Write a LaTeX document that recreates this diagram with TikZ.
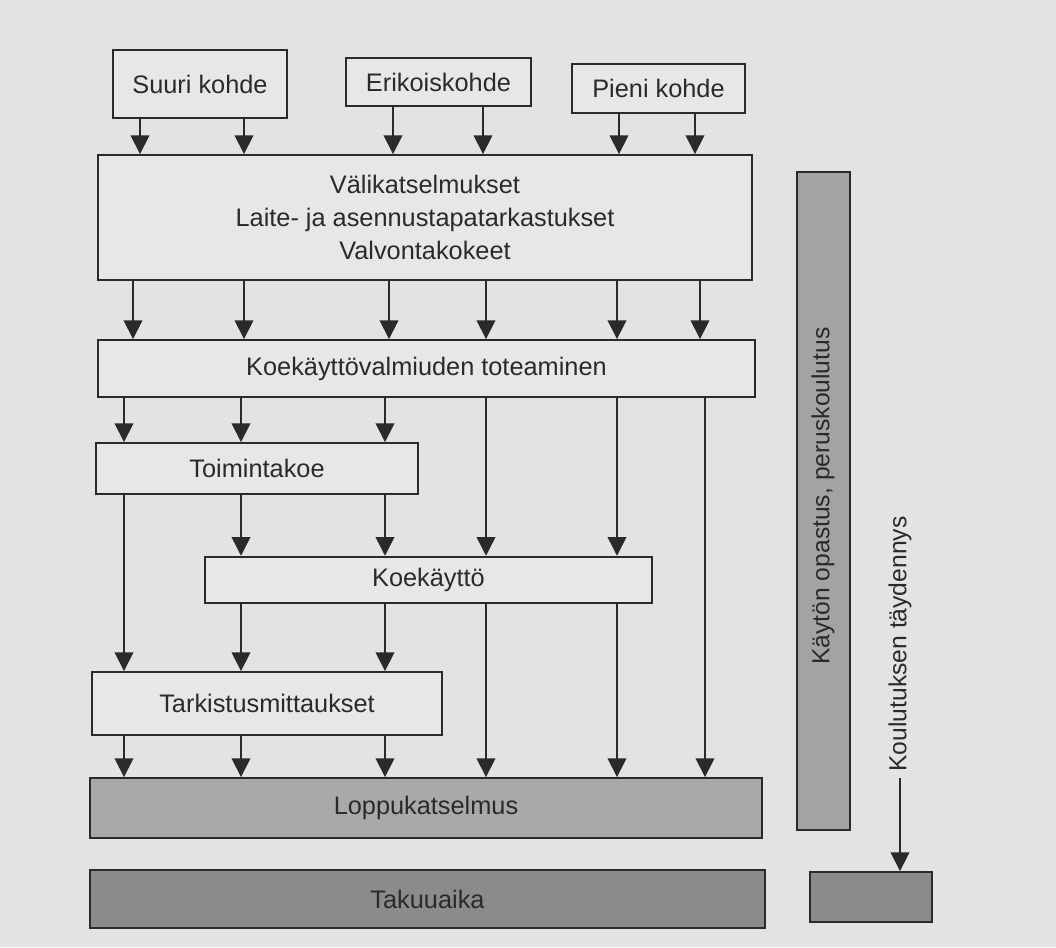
\documentclass[tikz,border=0pt]{standalone}
\usepackage{fontspec}
\setmainfont{Liberation Sans}
\usetikzlibrary{arrows.meta}
\definecolor{bg}{HTML}{E3E3E1}
\definecolor{boxfill}{HTML}{E7E7E5}
\definecolor{ink}{HTML}{2A2A2A}
\definecolor{midgray}{HTML}{A9A9A7}
\definecolor{darkgray}{HTML}{8B8B89}
\definecolor{bargray}{HTML}{A3A3A1}
\begin{document}
\begin{tikzpicture}[x=0.75pt,y=-0.75pt,
  box/.style={draw=ink,line width=1.4pt,fill=boxfill,text=ink,
    font=\fontsize{19}{25}\selectfont,inner sep=0pt,align=center},
  graybox/.style={box,fill=midgray},
  darkbox/.style={box,fill=darkgray},
  barbox/.style={box,fill=bargray},
  vlabel/.style={text=ink,font=\fontsize{18.5}{22}\selectfont,rotate=90,inner sep=5pt},
  arr/.style={draw=ink,line width=1.1pt,-{Triangle[width=14pt,length=14pt]}}]
\fill[bg] (0,0) rectangle (1056,947);
\useasboundingbox (0,0) rectangle (1056,947);

% top boxes
\node[box,minimum width=130.5pt,minimum height=51pt] (suuri) at (200,84) {Suuri kohde};
\node[box,minimum width=138.75pt,minimum height=36pt] (erik) at (438.5,82) {Erikoiskohde};
\node[box,minimum width=129.75pt,minimum height=36.75pt] (pieni) at (658.5,88.5) {Pieni kohde};
% main boxes
\node[box,minimum width=490.5pt,minimum height=93.75pt] (val) at (425,217.5)
  {Välikatselmukset\\Laite- ja asennustapatarkastukset\\Valvontakokeet};
\node[box,minimum width=492.75pt,minimum height=42.75pt] (koev) at (426.5,368.5) {Koekäyttövalmiuden toteaminen};
\node[box,minimum width=241.5pt,minimum height=38.25pt] (toim) at (257,468.5) {Toimintakoe};
\node[box,minimum width=335.25pt,minimum height=35pt] (koek) at (428.5,580) {Koekäyttö};
\node[box,minimum width=262.5pt,minimum height=47.25pt] (tark) at (267,703.5) {Tarkistusmittaukset};
\node[graybox,minimum width=504pt,minimum height=45pt] (loppu) at (426,808) {Loppukatselmus};
\node[darkbox,minimum width=506.25pt,minimum height=43.5pt] (takuu) at (427.5,899) {Takuuaika};
% right side
\node[barbox,minimum width=39.75pt,minimum height=493.5pt] (vbar) at (823.5,501) {};
\node[vlabel] (vtext) at (823,496) {Käytön opastus, peruskoulutus};
\node[darkbox,minimum width=91.5pt,minimum height=37.5pt] (small) at (871,897) {};
\node[vlabel] (kt) at (900,644) {Koulutuksen täydennys};

% column coordinates
\coordinate (a1) at (140,0); \coordinate (a2) at (244,0);
\coordinate (a3) at (393,0); \coordinate (a4) at (483,0);
\coordinate (a5) at (619,0); \coordinate (a6) at (695,0);
\coordinate (b1) at (133,0); \coordinate (b2) at (244,0);
\coordinate (b3) at (389,0); \coordinate (b4) at (486,0);
\coordinate (b5) at (617,0); \coordinate (b6) at (700,0);
\coordinate (c1) at (124,0); \coordinate (c2) at (241,0);
\coordinate (c3) at (385,0); \coordinate (c4) at (486,0);
\coordinate (c5) at (617,0); \coordinate (c6) at (705,0);

% arrows top
\draw[arr] (suuri.south -| a1) -- (val.north -| a1);
\draw[arr] (suuri.south -| a2) -- (val.north -| a2);
\draw[arr] (erik.south -| a3) -- (val.north -| a3);
\draw[arr] (erik.south -| a4) -- (val.north -| a4);
\draw[arr] (pieni.south -| a5) -- (val.north -| a5);
\draw[arr] (pieni.south -| a6) -- (val.north -| a6);
% val -> koev
\foreach \c in {b1,b2,b3,b4,b5,b6}
  \draw[arr] (val.south -| \c) -- (koev.north -| \c);
% koev -> ...
\foreach \c in {c1,c2,c3}
  \draw[arr] (koev.south -| \c) -- (toim.north -| \c);
\foreach \c in {c4,c5}
  \draw[arr] (koev.south -| \c) -- (koek.north -| \c);
\draw[arr] (koev.south -| c6) -- (loppu.north -| c6);
% toim -> ...
\draw[arr] (toim.south -| c1) -- (tark.north -| c1);
\foreach \c in {c2,c3}
  \draw[arr] (toim.south -| \c) -- (koek.north -| \c);
% koek -> ...
\foreach \c in {c2,c3}
  \draw[arr] (koek.south -| \c) -- (tark.north -| \c);
\foreach \c in {c4,c5}
  \draw[arr] (koek.south -| \c) -- (loppu.north -| \c);
% tark -> loppu
\foreach \c in {c1,c2,c3}
  \draw[arr] (tark.south -| \c) -- (loppu.north -| \c);
% training supplement
\draw[arr] (kt.west) -- (small.north -| kt.west);
\end{tikzpicture}
\end{document}
